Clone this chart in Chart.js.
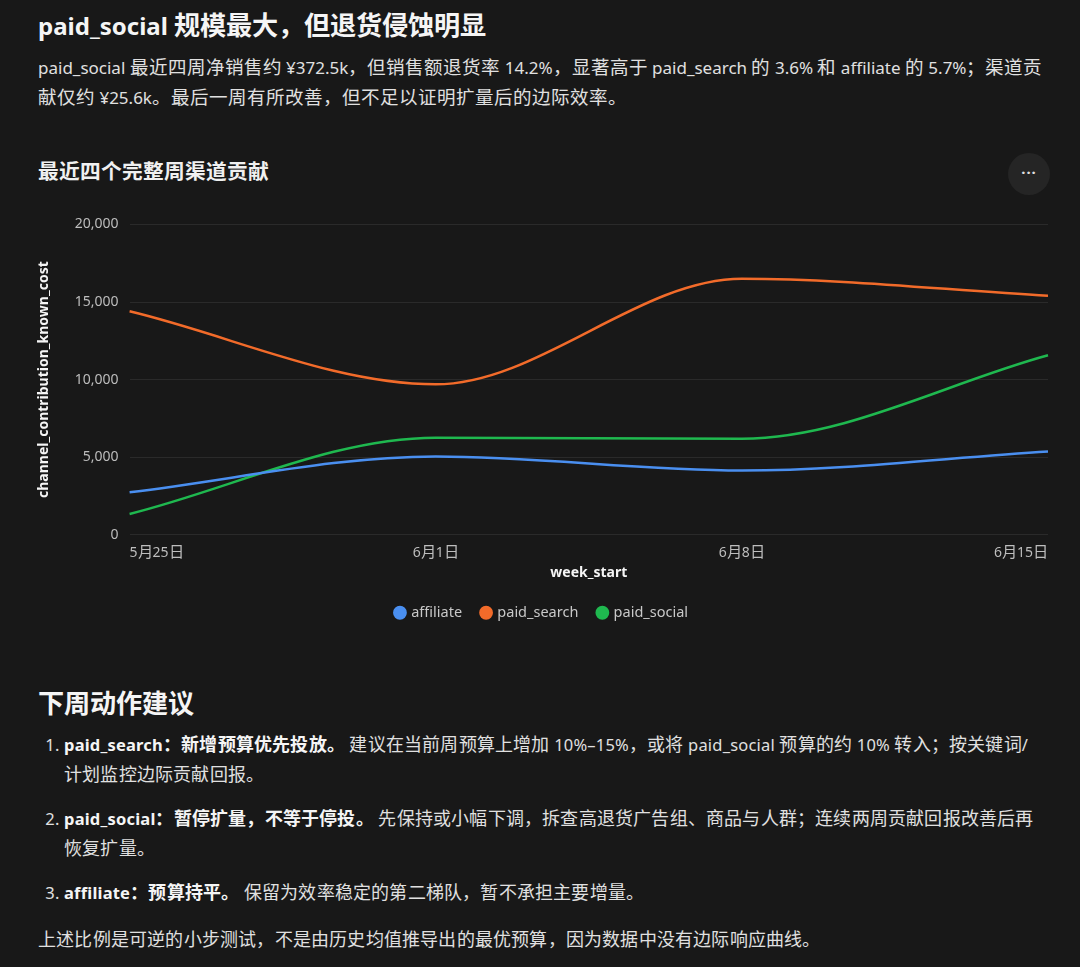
<!DOCTYPE html>
<html lang="zh-CN">
<head>
<meta charset="utf-8">
<script src="https://cdn.jsdelivr.net/npm/chart.js@4.4.1/dist/chart.umd.min.js"></script>
<style>
    /* CJK glyphs in the reference run a little wider than Noto's, so scale them up */
    @font-face {
        font-family: "CJKW";
        src: local("Noto Sans CJK SC"), local("Noto Sans CJK SC Regular"), local("NotoSansCJKsc-Regular");
        font-weight: 400;
        unicode-range: U+2000-206F, U+3000-9FFF, U+FF00-FFEF;
        size-adjust: 109%;
    }
    @font-face {
        font-family: "CJKW";
        src: local("Noto Sans CJK SC Bold"), local("NotoSansCJKsc-Bold");
        font-weight: 700;
        unicode-range: U+2000-206F, U+3000-9FFF, U+FF00-FFEF;
        size-adjust: 109%;
    }
    html, body {
        margin: 0;
        padding: 0;
        background: #181818;
        color: #e6e6e6;
        font-family: "Segoe UI", "Noto Sans", "CJKW", "Noto Sans CJK SC", sans-serif;
    }
    .page {
        position: relative;
        width: 1080px;
        height: 967px;
        overflow: hidden;
    }
    h1 {
        position: absolute;
        left: 38px;
        top: 5px;
        margin: 0;
        font-size: 24px;
        font-weight: 700;
        color: #f5f5f5;
        white-space: nowrap;
    }
    .lead {
        position: absolute;
        left: 38px;
        top: 53px;
        margin: 0;
        font-size: 17px;
        line-height: 30px;
        color: #e0e0e0;
        white-space: nowrap;
    }
    .chart-title {
        position: absolute;
        left: 38px;
        top: 155px;
        margin: 0;
        font-size: 19px;
        font-weight: 700;
        color: #f0f0f0;
    }
    .more {
        position: absolute;
        left: 1008px;
        top: 153px;
        width: 42px;
        height: 42px;
        border-radius: 50%;
        background: #252525;
        color: #e0e0e0;
        font-size: 15px;
        line-height: 38px;
        text-align: center;
        letter-spacing: 1px;
        font-weight: 700;
    }
    .chart-box {
        position: absolute;
        left: 30px;
        top: 205px;
        width: 1030px;
        height: 425px;
    }
    h2 {
        position: absolute;
        left: 38px;
        top: 683px;
        margin: 0;
        font-size: 24px;
        font-weight: 700;
        color: #f5f5f5;
    }
    ol {
        position: absolute;
        left: 38px;
        top: 730px;
        margin: 0;
        padding-left: 26px;
        font-size: 16.5px;
        letter-spacing: 0.2px;
        line-height: 30px;
        color: #e0e0e0;
        white-space: nowrap;
    }
    ol li {
        margin-bottom: 14px;
    }
    ol b {
        color: #f5f5f5;
    }
    .note {
        position: absolute;
        left: 38px;
        top: 925px;
        margin: 0;
        font-size: 16.5px;
        letter-spacing: 0.2px;
        line-height: 30px;
        color: #e0e0e0;
        white-space: nowrap;
    }
</style>
</head>
<body>
<div class="page">
    <h1>paid_social 规模最大，但退货侵蚀明显</h1>
    <p class="lead">paid_social 最近四周净销售约 ¥372.5k，但销售额退货率 14.2%，显著高于 paid_search 的 3.6% 和 affiliate 的 5.7%；渠道贡<br>献仅约 ¥25.6k。最后一周有所改善，但不足以证明扩量后的边际效率。</p>

    <p class="chart-title">最近四个完整周渠道贡献</p>
    <div class="more">···</div>
    <div class="chart-box"><canvas id="contribChart"></canvas></div>

    <h2>下周动作建议</h2>
    <ol>
        <li><b>paid_search：新增预算优先投放。</b> 建议在当前周预算上增加 10%–15%，或将 paid_social 预算的约 10% 转入；按关键词/<br>计划监控边际贡献回报。</li>
        <li><b>paid_social：暂停扩量，不等于停投。</b> 先保持或小幅下调，拆查高退货广告组、商品与人群；连续两周贡献回报改善后再<br>恢复扩量。</li>
        <li><b>affiliate：预算持平。</b> 保留为效率稳定的第二梯队，暂不承担主要增量。</li>
    </ol>
    <p class="note">上述比例是可逆的小步测试，不是由历史均值推导出的最优预算，因为数据中没有边际响应曲线。</p>
</div>

<script>
// week_start labels
const weeks = ['5月25日', '6月1日', '6月8日', '6月15日'];

// channel_contribution_known_cost per channel
const affiliate = [2750, 5050, 4150, 5370];
const paidSearch = [14400, 9700, 16500, 15400];
const paidSocial = [1350, 6260, 6200, 11570];

const yTicks = [0, 5000, 10000, 15000, 20000];

const fontFamily = '"Segoe UI", "Noto Sans", "CJKW", "Noto Sans CJK SC", sans-serif';

function makeLine(label, data, color) {
    return {
        label: label,
        data: data,
        borderColor: color,
        backgroundColor: color,
        borderWidth: 2.5,
        pointRadius: 0,
        pointHoverRadius: 4,
        cubicInterpolationMode: 'monotone',
        fill: false
    };
}

function drawChart() {
    const ctx = document.getElementById('contribChart').getContext('2d');

    new Chart(ctx, {
        type: 'line',
        data: {
            labels: weeks,
            datasets: [
                makeLine('affiliate', affiliate, '#4a8ff0'),
                makeLine('paid_search', paidSearch, '#f26b2a'),
                makeLine('paid_social', paidSocial, '#1fb84f')
            ]
        },
        options: {
            responsive: true,
            maintainAspectRatio: false,
            animation: false,
            layout: {
                padding: { top: 7, right: 12, bottom: 0, left: 6 }
            },
            scales: {
                x: {
                    grid: { display: false },
                    border: { display: false },
                    ticks: {
                        color: '#bdbdbd',
                        align: 'inner',
                        maxRotation: 0,
                        padding: 2,
                        font: { family: fontFamily, size: 14 }
                    },
                    title: {
                        display: true,
                        text: 'week_start',
                        color: '#f5f5f5',
                        padding: { top: 1, bottom: 4 },
                        font: { family: fontFamily, size: 14, weight: 'bold' }
                    }
                },
                y: {
                    min: 0,
                    max: 20000,
                    afterBuildTicks: axis => {
                        axis.ticks = yTicks.map(v => ({ value: v }));
                    },
                    grid: { color: '#2a2a2a', drawTicks: false },
                    border: { display: false },
                    ticks: {
                        color: '#bdbdbd',
                        padding: 11,
                        font: { family: fontFamily, size: 14 },
                        callback: v => v.toLocaleString('en-US')
                    },
                    title: {
                        display: true,
                        text: 'channel_contribution_known_cost',
                        color: '#f5f5f5',
                        padding: { top: 0, bottom: 11 },
                        font: { family: fontFamily, size: 14, weight: 'bold' }
                    }
                }
            },
            plugins: {
                legend: {
                    position: 'bottom',
                    labels: {
                        color: '#c8c8c8',
                        usePointStyle: true,
                        pointStyle: 'circle',
                        boxWidth: 8,
                        boxHeight: 8,
                        padding: 20,
                        font: { family: fontFamily, size: 14.5 }
                    }
                },
                tooltip: { mode: 'index', intersect: false }
            }
        }
    });
}

// make sure the scaled CJK face is ready before the canvas draws text
Promise.all([
    document.fonts.load('14px CJKW', '月日'),
    document.fonts.load('bold 14px CJKW', '月日')
]).then(drawChart, drawChart);
</script>
</body>
</html>
